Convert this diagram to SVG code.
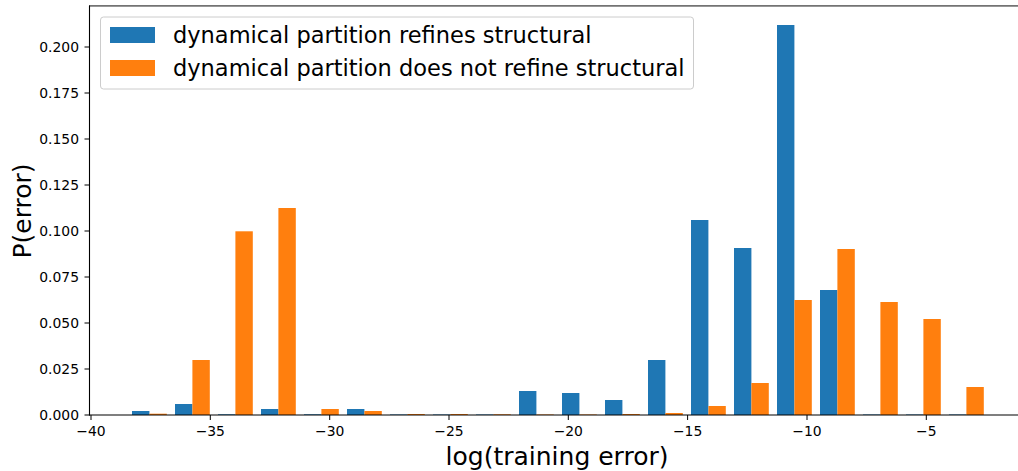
<svg xmlns="http://www.w3.org/2000/svg" width="1018" height="471" viewBox="0 0 1018 471">
<style>
text{font-family:"DejaVu Sans",sans-serif;fill:#000}
.tk{font-size:13.9px}
.yt{text-anchor:end}
.xt{text-anchor:middle}
.lab{font-size:25px}
.leg{font-size:22.5px}
.b{fill:#1f77b4}
.o{fill:#ff7f0e}
.tick{stroke:#000;stroke-width:1}
</style>
<rect width="1018" height="471" fill="#fff"/>
<g id="bars-blue">
<rect class="b" x="132" y="411" width="17.4" height="4"/>
<rect class="b" x="175" y="404" width="17.4" height="11"/>
<rect class="b" x="218" y="414.3" width="17.4" height="0.7"/>
<rect class="b" x="261" y="409" width="17.4" height="6"/>
<rect class="b" x="304" y="414.3" width="17.4" height="0.7"/>
<rect class="b" x="347" y="409" width="17.4" height="6"/>
<rect class="b" x="390" y="414.5" width="17.4" height="0.5"/>
<rect class="b" x="433" y="414.5" width="17.4" height="0.5"/>
<rect class="b" x="476" y="414.5" width="17.4" height="0.5"/>
<rect class="b" x="519" y="391" width="17.4" height="24"/>
<rect class="b" x="562" y="393" width="17.4" height="22"/>
<rect class="b" x="605" y="400" width="17.4" height="15"/>
<rect class="b" x="648" y="360" width="17.4" height="55"/>
<rect class="b" x="691" y="220" width="17.4" height="195"/>
<rect class="b" x="734" y="248" width="17.4" height="167"/>
<rect class="b" x="777" y="25" width="17.4" height="390"/>
<rect class="b" x="820" y="290" width="17.4" height="125"/>
<rect class="b" x="863" y="414.5" width="17.4" height="0.5"/>
<rect class="b" x="906" y="414.5" width="17.4" height="0.5"/>
<rect class="b" x="949" y="414.5" width="17.4" height="0.5"/>
</g>
<g id="bars-orange">
<rect class="o" x="149.4" y="413.7" width="17.4" height="1.3"/>
<rect class="o" x="192.4" y="360" width="17.4" height="55"/>
<rect class="o" x="235.4" y="231.3" width="17.4" height="183.7"/>
<rect class="o" x="278.4" y="208" width="17.4" height="207"/>
<rect class="o" x="321.4" y="409" width="17.4" height="6"/>
<rect class="o" x="364.4" y="411" width="17.4" height="4"/>
<rect class="o" x="407.4" y="414" width="17.4" height="1"/>
<rect class="o" x="450.4" y="414" width="17.4" height="1"/>
<rect class="o" x="493.4" y="414.3" width="17.4" height="0.7"/>
<rect class="o" x="536.4" y="414.5" width="17.4" height="0.5"/>
<rect class="o" x="579.4" y="414.5" width="17.4" height="0.5"/>
<rect class="o" x="622.4" y="414" width="17.4" height="1"/>
<rect class="o" x="665.4" y="413" width="17.4" height="2"/>
<rect class="o" x="708.4" y="406" width="17.4" height="9"/>
<rect class="o" x="751.4" y="383" width="17.4" height="32"/>
<rect class="o" x="794.4" y="300" width="17.4" height="115"/>
<rect class="o" x="837.4" y="249" width="17.4" height="166"/>
<rect class="o" x="880.4" y="302" width="17.4" height="113"/>
<rect class="o" x="923.4" y="319" width="17.4" height="96"/>
<rect class="o" x="966.4" y="387" width="17.4" height="28"/>
</g>
<g id="axes">
<line x1="89.5" y1="5.5" x2="89.5" y2="415.5" stroke="#000" stroke-width="1.1"/>
<line x1="89" y1="5.8" x2="1018" y2="5.8" stroke="#000" stroke-opacity="0.55" stroke-width="1.8"/>
<line x1="89" y1="415" x2="1018" y2="415" stroke="#000" stroke-opacity="0.5" stroke-width="1.8"/>
</g>
<g id="y-ticks">
<line class="tick" x1="84.5" y1="415" x2="89.5" y2="415"/>
<line class="tick" x1="84.5" y1="369" x2="89.5" y2="369"/>
<line class="tick" x1="84.5" y1="323" x2="89.5" y2="323"/>
<line class="tick" x1="84.5" y1="277" x2="89.5" y2="277"/>
<line class="tick" x1="84.5" y1="231" x2="89.5" y2="231"/>
<line class="tick" x1="84.5" y1="185" x2="89.5" y2="185"/>
<line class="tick" x1="84.5" y1="139" x2="89.5" y2="139"/>
<line class="tick" x1="84.5" y1="93" x2="89.5" y2="93"/>
<line class="tick" x1="84.5" y1="47" x2="89.5" y2="47"/>
<text class="tk yt" x="79" y="420">0.000</text>
<text class="tk yt" x="79" y="374">0.025</text>
<text class="tk yt" x="79" y="328">0.050</text>
<text class="tk yt" x="79" y="282">0.075</text>
<text class="tk yt" x="79" y="236">0.100</text>
<text class="tk yt" x="79" y="190">0.125</text>
<text class="tk yt" x="79" y="144">0.150</text>
<text class="tk yt" x="79" y="98">0.175</text>
<text class="tk yt" x="79" y="52">0.200</text>
</g>
<g id="x-ticks">
<line class="tick" x1="91" y1="415" x2="91" y2="420"/>
<line class="tick" x1="210.3" y1="415" x2="210.3" y2="420"/>
<line class="tick" x1="329.7" y1="415" x2="329.7" y2="420"/>
<line class="tick" x1="449" y1="415" x2="449" y2="420"/>
<line class="tick" x1="568.3" y1="415" x2="568.3" y2="420"/>
<line class="tick" x1="687.6" y1="415" x2="687.6" y2="420"/>
<line class="tick" x1="807" y1="415" x2="807" y2="420"/>
<line class="tick" x1="926.3" y1="415" x2="926.3" y2="420"/>
<text class="tk xt" x="91" y="436">−40</text>
<text class="tk xt" x="210.3" y="436">−35</text>
<text class="tk xt" x="329.7" y="436">−30</text>
<text class="tk xt" x="449" y="436">−25</text>
<text class="tk xt" x="568.3" y="436">−20</text>
<text class="tk xt" x="687.6" y="436">−15</text>
<text class="tk xt" x="807" y="436">−10</text>
<text class="tk xt" x="926.3" y="436">−5</text>
</g>
<g id="labels">
<text class="lab" x="557" y="465" text-anchor="middle">log(training error)</text>
<text class="lab" transform="translate(31,211) rotate(-90)" text-anchor="middle">P(error)</text>
</g>
<g id="legend">
<rect x="100.5" y="17" width="593" height="72" rx="3" fill="#fff" fill-opacity="0.8" stroke="#ccc" stroke-width="1"/>
<rect class="b" x="110" y="27" width="45" height="16"/>
<rect class="o" x="110" y="60" width="45" height="16"/>
<text class="leg" x="173" y="43">dynamical partition refines structural</text>
<text class="leg" x="173" y="76">dynamical partition does not refine structural</text>
</g>
</svg>
